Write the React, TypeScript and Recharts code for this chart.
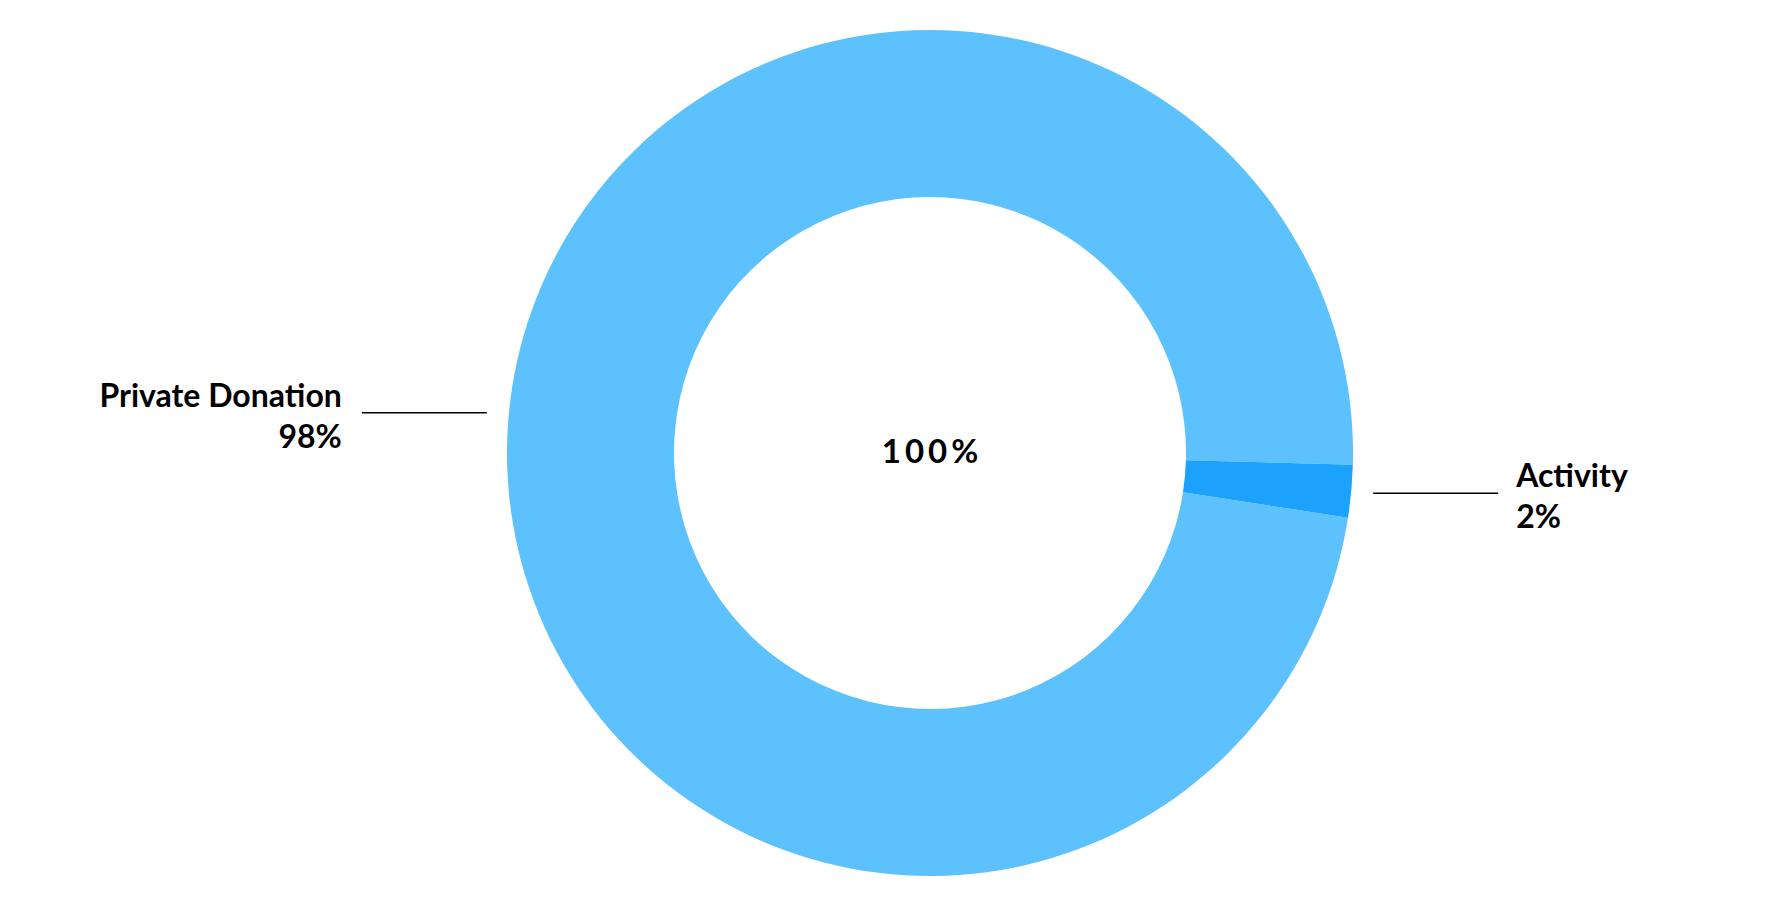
import React from 'react';
import { PieChart, Pie, Cell } from 'recharts';

const categories = ['Private Donation', 'Activity'];
const values = [98, 2];
const colors = ['#5cc1fd', '#1ca2fd'];
const centerText = '100%';

const data = categories.map((name, i) => ({ name, value: values[i] }));

const RADIAN = Math.PI / 180;
const FONT = 'Lato, "Open Sans", sans-serif';
const textStyle = { fontFamily: FONT, fontWeight: 700, fontSize: 32 };

const renderLabel = (props: any) => {
  const { cx, cy, midAngle, outerRadius, name, percent, index } = props;
  const r = outerRadius + 22;
  const cos = Math.cos(-midAngle * RADIAN);
  const sin = Math.sin(-midAngle * RADIAN);
  const sx = cx + r * cos;
  const sy = cy + r * sin;
  const right = cos >= 0;
  const ex = sx + (right ? 1 : -1) * 125;
  const tx = ex + (right ? 18 : -20);
  const anchor = right ? 'start' : 'end';
  return (
    <g>
      {index === 0 && (
        <text
          x={cx + 2}
          y={cy + 10}
          textAnchor="middle"
          fill="#000"
          style={{ ...textStyle, fontSize: 33, letterSpacing: 4 }}
        >
          {centerText}
        </text>
      )}
      <line x1={sx} y1={sy} x2={ex} y2={sy} stroke="#000" strokeWidth={1.5} />
      <text x={tx} y={sy - 6} textAnchor={anchor} fill="#000" style={textStyle}>
        {name}
      </text>
      <text x={tx} y={sy + 35} textAnchor={anchor} fill="#000" style={textStyle}>
        {`${Math.round(percent * 100)}%`}
      </text>
    </g>
  );
};

export default function App() {
  return (
    <div style={{ width: 1766, height: 890 }}>
      <PieChart width={1766} height={890} margin={{ top: 0, right: 0, bottom: 0, left: 0 }}>
        <Pie
          data={data}
          dataKey="value"
          nameKey="name"
          cx={922}
          cy={445}
          innerRadius={256}
          outerRadius={423}
          startAngle={-1.6}
          endAngle={358.4}
          stroke="none"
          label={renderLabel}
          labelLine={false}
          isAnimationActive={false}
        >
          {data.map((d, i) => (
            <Cell key={d.name} fill={colors[i]} />
          ))}
        </Pie>
      </PieChart>
    </div>
  );
}
